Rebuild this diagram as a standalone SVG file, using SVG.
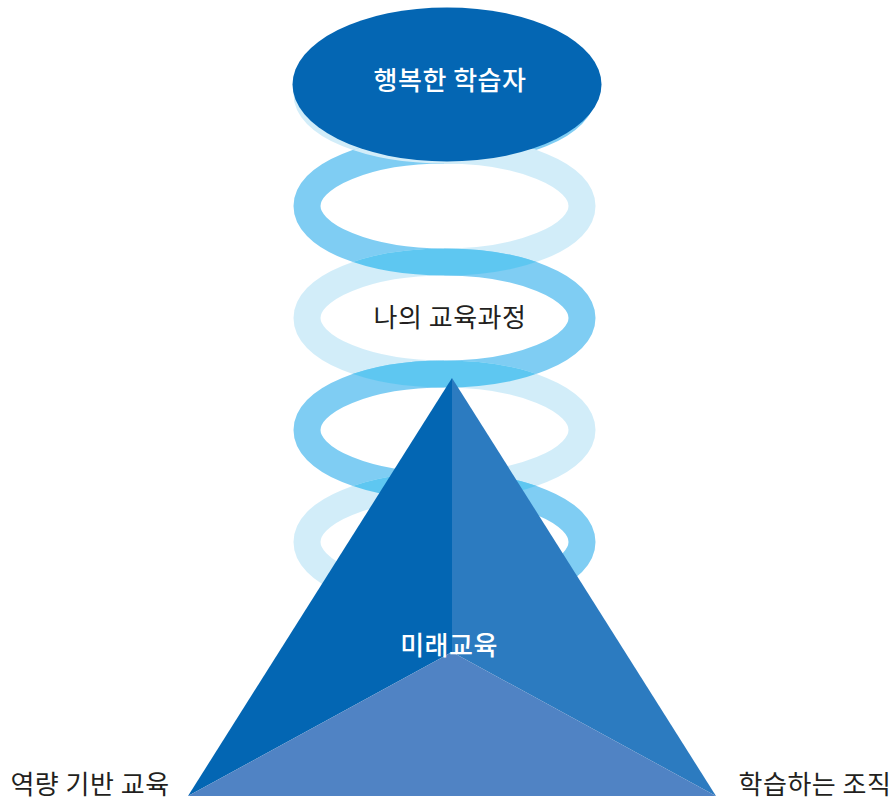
<svg xmlns="http://www.w3.org/2000/svg" width="896" height="803" viewBox="0 0 896 803">
<style>
.ring{fill:none;stroke-width:27}
.lens{fill:none;stroke-width:27;stroke:#5ec7f1}
.t{font-family:"Noto Sans CJK KR","Noto Sans",sans-serif;font-size:26px;text-anchor:middle;letter-spacing:0.5px}
.w{fill:#ffffff;font-weight:500}
.k{fill:#231f20}
</style>
<defs>
<linearGradient id="gA" x1="0" y1="0" x2="1" y2="0">
<stop offset="0" stop-color="#7fcdf3"/><stop offset="0.5" stop-color="#7fcdf3"/><stop offset="0.5" stop-color="#d2edf9"/><stop offset="1" stop-color="#d2edf9"/>
</linearGradient>
<linearGradient id="gB" x1="0" y1="0" x2="1" y2="0">
<stop offset="0" stop-color="#d2edf9"/><stop offset="0.5" stop-color="#d2edf9"/><stop offset="0.5" stop-color="#7fcdf3"/><stop offset="1" stop-color="#7fcdf3"/>
</linearGradient>
<mask id="m0" maskUnits="userSpaceOnUse" x="0" y="0" width="896" height="803"><ellipse cx="444.5" cy="94" rx="137.5" ry="56" fill="none" stroke="#fff" stroke-width="27"/></mask>
<mask id="m1" maskUnits="userSpaceOnUse" x="0" y="0" width="896" height="803"><ellipse cx="444.5" cy="206" rx="137.5" ry="56" fill="none" stroke="#fff" stroke-width="27"/></mask>
<mask id="m2" maskUnits="userSpaceOnUse" x="0" y="0" width="896" height="803"><ellipse cx="444.5" cy="318" rx="137.5" ry="56" fill="none" stroke="#fff" stroke-width="27"/></mask>
<mask id="m3" maskUnits="userSpaceOnUse" x="0" y="0" width="896" height="803"><ellipse cx="444.5" cy="430" rx="137.5" ry="56" fill="none" stroke="#fff" stroke-width="27"/></mask>
</defs>
<g id="rings">
<ellipse class="ring" cx="444.5" cy="94" rx="137.5" ry="56" stroke="url(#gB)"/>
<ellipse class="ring" cx="444.5" cy="206" rx="137.5" ry="56" stroke="url(#gA)"/>
<ellipse class="ring" cx="444.5" cy="318" rx="137.5" ry="56" stroke="url(#gB)"/>
<ellipse class="ring" cx="444.5" cy="430" rx="137.5" ry="56" stroke="url(#gA)"/>
<ellipse class="ring" cx="444.5" cy="542" rx="137.5" ry="56" stroke="url(#gB)"/>
<ellipse class="ring" cx="444.5" cy="206" rx="137.5" ry="56" stroke="#d2edf9" mask="url(#m0)"/>
<ellipse class="lens" cx="444.5" cy="318" rx="137.5" ry="56" mask="url(#m1)"/>
<ellipse class="lens" cx="444.5" cy="430" rx="137.5" ry="56" mask="url(#m2)"/>
<ellipse class="lens" cx="444.5" cy="542" rx="137.5" ry="56" mask="url(#m3)"/>
</g>
<g id="connectors"></g>
<g id="node-learner">
<ellipse cx="447" cy="84.5" rx="154.5" ry="77" fill="#0466b3"/>
<text class="t w" x="450" y="90">행복한 학습자</text>
</g>
<g id="node-curriculum">
<text class="t k" x="450" y="327">나의 교육과정</text>
</g>
<g id="node-future">
<polygon points="452,378 452,652 188,796" fill="#0366b3"/>
<polygon points="452,378 716,796 452,652" fill="#2c7bc0"/>
<polygon points="188,796 452,652 716,796" fill="#5083c4"/>
<text class="t w" x="449" y="655">미래교육</text>
</g>
<g id="node-competency">
<text class="t k" x="90" y="794">역량 기반 교육</text>
</g>
<g id="node-organization">
<text class="t k" x="815" y="794">학습하는 조직</text>
</g>
</svg>
